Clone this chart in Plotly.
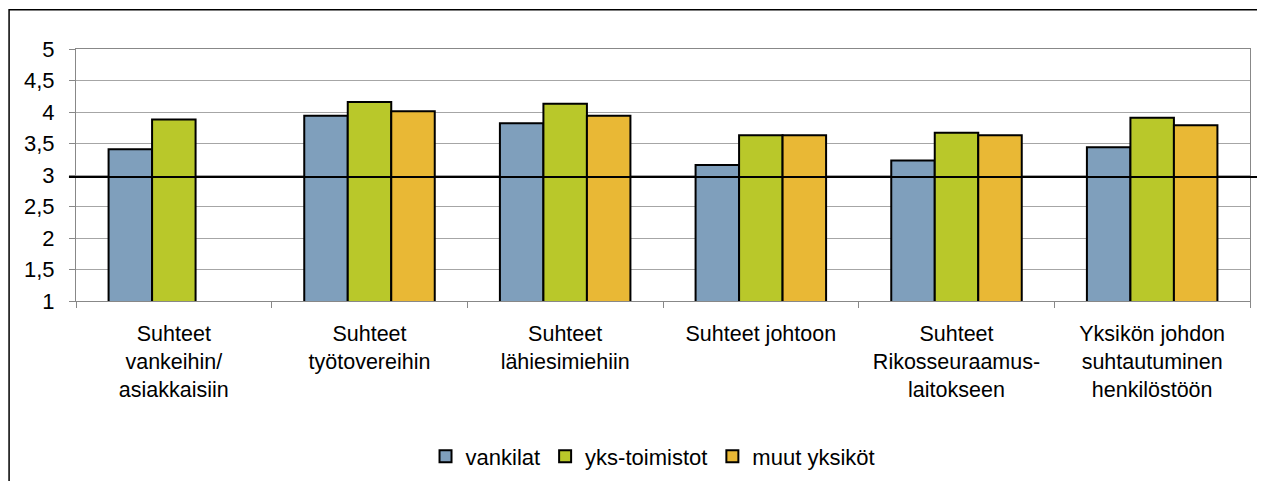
import plotly.graph_objects as go

categories = [
    "Suhteet<br>vankeihin/<br>asiakkaisiin",
    "Suhteet<br>työtovereihin",
    "Suhteet<br>lähiesimiehiin",
    "Suhteet johtoon",
    "Suhteet<br>Rikosseuraamus-<br>laitokseen",
    "Yksikön johdon<br>suhtautuminen<br>henkilöstöön",
]
vankilat = [3.41, 3.94, 3.82, 3.16, 3.23, 3.44]
yks_toimistot = [3.88, 4.16, 4.13, 3.63, 3.67, 3.91]
muut_yksikot = [None, 4.01, 3.94, 3.63, 3.63, 3.79]
series_names = ["vankilat", "yks-toimistot", "muut yksiköt"]
colors = ["#7F9FBC", "#B9C82A", "#E9B835"]
y_ticks = [1, 1.5, 2, 2.5, 3, 3.5, 4, 4.5, 5]
y_tick_labels = ["1", "1,5", "2", "2,5", "3", "3,5", "4", "4,5", "5"]
ref_level = 2.97

fig = go.Figure()
for name, vals, col in zip(series_names, [vankilat, yks_toimistot, muut_yksikot], colors):
    fig.add_trace(go.Bar(
        x=categories, y=vals, name=name,
        marker=dict(color=col, line=dict(color="black", width=2)),
    ))

font = "Liberation Sans, Arial, sans-serif"
fig.update_layout(
    width=1265, height=481,
    margin=dict(l=68, r=23, t=41, b=184),
    paper_bgcolor="white", plot_bgcolor="white",
    barmode="group", bargap=0.333, bargroupgap=0,
    font=dict(family=font, size=21.5, color="black"),
    showlegend=True,
    legend=dict(orientation="h", x=0.4915, xanchor="center", y=-0.617, yanchor="middle",
                font=dict(size=22), itemwidth=30, traceorder="normal"),
    xaxis=dict(
        showline=True, linecolor="#888888", linewidth=1, mirror=True,
        ticks="outside", tickson="boundaries", ticklen=6, tickcolor="#888888",
        tickfont=dict(size=21.5), ticklabelstandoff=13,
    ),
    yaxis=dict(
        range=[1, 5], tickvals=y_ticks, ticktext=y_tick_labels,
        showgrid=True, gridcolor="#A6A6A6", gridwidth=1,
        showline=True, linecolor="#888888", linewidth=1, mirror=True,
        ticks="outside", ticklen=6, tickcolor="#888888",
        tickfont=dict(size=22), ticklabelstandoff=10,
        zeroline=False,
    ),
    shapes=[
        dict(type="line", xref="paper", yref="y", x0=-0.006, x1=1.0068,
             y0=ref_level, y1=ref_level, line=dict(color="black", width=2), layer="above"),
        dict(type="rect", xref="paper", yref="paper", x0=-0.0570, x1=1.03,
             y0=-0.75, y1=1.156, line=dict(color="black", width=1.5)),
    ],
)

fig.write_html("out.html")
